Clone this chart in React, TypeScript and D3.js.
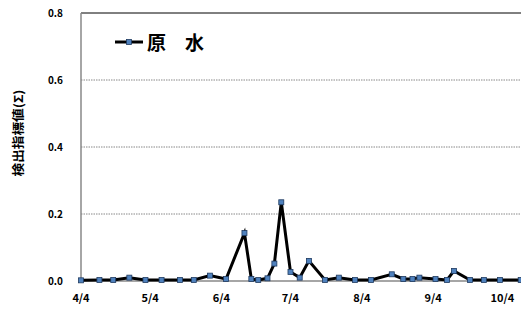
import * as d3 from 'd3';

// sample dates (month/day) and values
const DATES = [
  '4/4', '4/12', '4/18', '4/25', '5/2', '5/9', '5/17', '5/23', '5/30', '6/6',
  '6/14', '6/17', '6/20', '6/24', '6/27', '6/30', '7/4', '7/8', '7/12', '7/19',
  '7/25', '8/1', '8/8', '8/17', '8/22', '8/26', '8/29', '9/5', '9/10', '9/13',
  '9/20', '9/26', '10/3', '10/12',
];
const VALUES = [
  0.002, 0.003, 0.003, 0.01, 0.003, 0.003, 0.003, 0.003, 0.016, 0.006,
  0.143, 0.006, 0.003, 0.008, 0.052, 0.235, 0.027, 0.01, 0.06, 0.003,
  0.01, 0.003, 0.003, 0.02, 0.006, 0.006, 0.01, 0.006, 0.003, 0.03,
  0.003, 0.003, 0.003, 0.003,
];
const X_TICKS = ['4/4', '5/4', '6/4', '7/4', '8/4', '9/4', '10/4'];
const Y_TICKS = [0, 0.2, 0.4, 0.6, 0.8];

const W = 521;
const H = 316;
const M = { left: 81, top: 13, right: 523, bottom: 281 };
const FONT = '"Noto Sans CJK JP", "Noto Sans", sans-serif';

const toDate = (s: string) => {
  const [m, d] = s.split('/').map(Number);
  return new Date(2012, m - 1, d);
};

export default function App() {
  const x = d3
    .scaleTime()
    .domain([toDate('4/4'), toDate('10/13')])
    .range([M.left, M.right]);
  const y = d3.scaleLinear().domain([0, 0.8]).range([M.bottom, M.top]);

  const pts = DATES.map((d, i) => [x(toDate(d)), y(VALUES[i])] as [number, number]);
  const line = d3.line()(pts) ?? '';

  return (
    <div style={{ position: 'absolute', left: 0, top: 0 }}>
      <svg width={W} height={H} style={{ display: 'block', background: '#fff' }}>
        {Y_TICKS.filter((t) => t > 0 && t < 0.8).map((t) => (
          <line
            key={t}
            x1={M.left}
            x2={M.right}
            y1={y(t)}
            y2={y(t)}
            stroke="#888"
            strokeWidth={1}
            strokeDasharray="1.5 1"
          />
        ))}
        <line x1={M.left} x2={M.right} y1={y(0.8)} y2={y(0.8)} stroke="#000" strokeWidth={1} />
        <line x1={M.left} x2={M.left} y1={M.top} y2={M.bottom} stroke="#888" strokeWidth={1.5} />
        <line x1={M.left} x2={M.right} y1={M.bottom} y2={M.bottom} stroke="#888" strokeWidth={1.5} />

        {Y_TICKS.map((t) => (
          <text
            key={t}
            x={63}
            y={y(t) + 3.5}
            textAnchor="end"
            fontSize={10}
            fontWeight="bold"
            fontFamily={FONT}
          >
            {t.toFixed(1)}
          </text>
        ))}
        {X_TICKS.map((t) => (
          <text
            key={t}
            x={x(toDate(t))}
            y={302}
            textAnchor="middle"
            fontSize={11}
            fontWeight="bold"
            fontFamily={FONT}
          >
            {t}
          </text>
        ))}
        <text
          transform={`translate(23,133) rotate(-90)`}
          textAnchor="middle"
          fontSize={12}
          fontWeight="bold"
          fontFamily={FONT}
          textLength={87}
          lengthAdjust="spacingAndGlyphs"
        >
          検出指標値(Σ)
        </text>

        <path d={line} fill="none" stroke="#000" strokeWidth={3} strokeLinejoin="miter" />
        {pts.map(([px, py], i) => (
          <rect
            key={i}
            x={px - 2.5}
            y={py - 2.5}
            width={5}
            height={5}
            fill="#4F81BD"
            stroke="#1F3A5F"
            strokeWidth={0.8}
          />
        ))}

        <line x1={115} x2={143} y1={42} y2={42} stroke="#000" strokeWidth={3} />
        <rect x={126.5} y={39.5} width={5} height={5} fill="#4F81BD" stroke="#1F3A5F" strokeWidth={0.8} />
        <text x={147} y={50} fontSize={19} fontWeight="bold" fontFamily={FONT}>
          原　水
        </text>
      </svg>
    </div>
  );
}
